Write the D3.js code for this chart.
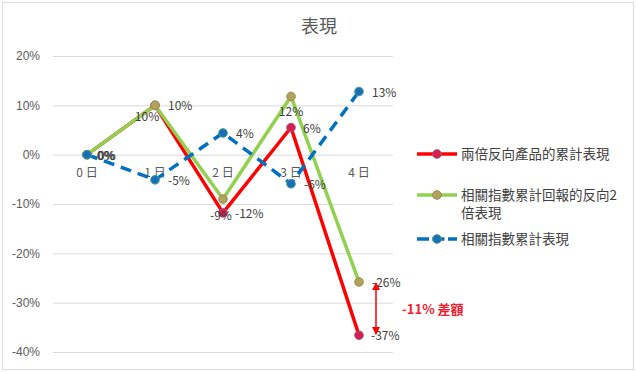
<!DOCTYPE html>
<html>
<head>
<meta charset="utf-8">
<script src="https://cdn.jsdelivr.net/npm/d3@7"></script>
<style>
  body { margin: 0; background: #fff; }
  svg { font-family: "Noto Sans CJK TC", "Noto Sans", sans-serif; }
</style>
</head>
<body>
<svg width="636" height="372"></svg>
<script>
// 資料
var days = ['0 日', '1 日', '2 日', '3 日', '4 日']
var yTicks = [0.2, 0.1, 0, -0.1, -0.2, -0.3, -0.4]
var inverseProduct = [0, 0.10, -0.118, 0.055, -0.366]   // 兩倍反向產品的累計表現
var inverseIndex2x = [0, 0.10, -0.09, 0.118, -0.258]    // 相關指數累計回報的反向2倍表現
var indexReturn = [0, -0.051, 0.044, -0.059, 0.128]     // 相關指數累計表現
var gapLabel = '-11% 差額'

var svg = d3.select('svg')
var pct = function (d) { return d3.format('.0%')(d).replace('\u2212', '-') }

// 外框
svg.append('rect')
  .attr('x', 2.5).attr('y', 2.5)
  .attr('width', 631).attr('height', 367)
  .attr('fill', 'none')
  .attr('stroke', '#d9d9d9')

var x = d3.scaleBand().domain(days).range([53, 393])
var y = d3.scaleLinear().domain([-0.4, 0.2]).range([352, 56])
var cx = function (d, i) { return x(days[i]) + x.bandwidth() / 2 }

// 標題
svg.append('text')
  .attr('x', 319).attr('y', 33)
  .attr('text-anchor', 'middle')
  .attr('font-size', 18)
  .attr('fill', '#595959')
  .text('表現')

// 格線 + y 軸
var yAxis = d3.axisLeft(y).tickValues(yTicks).tickFormat(pct).tickSize(-340).tickPadding(13)
var gy = svg.append('g').attr('transform', 'translate(53,0)').call(yAxis)
gy.select('.domain').remove()
gy.selectAll('line').attr('stroke', '#d9d9d9')
gy.selectAll('text').attr('font-size', 12).attr('fill', '#595959').attr('font-family', 'inherit')

// x 軸標籤 (在 0% 線下方)
svg.append('g').selectAll('text')
  .data(days).enter().append('text')
  .attr('x', function (d) { return x(d) + x.bandwidth() / 2 })
  .attr('y', 177)
  .attr('text-anchor', 'middle')
  .attr('font-size', 12)
  .attr('fill', '#595959')
  .text(function (d) { return d })

var series = [
  { name: '兩倍反向產品的累計表現', values: inverseProduct, color: '#ff0000', width: 3.5, dash: null,
    mFill: '#d4204a', mStroke: '#a4508a',
    labels: [[10, 5, 'start'], [-8, 16, 'middle'], [12, 5, 'start'], [12, 5, 'start'], [12, 5, 'start']] },
  { name: '相關指數累計回報的反向2倍表現', values: inverseIndex2x, color: '#92d050', width: 3.5, dash: null,
    mFill: '#b0a35e', mStroke: '#a0884a',
    labels: [[10, 5, 'start'], [13, 5, 'start'], [-2, 21, 'middle'], [0, 20, 'middle'], [13, 5, 'start']] },
  { name: '相關指數累計表現', values: indexReturn, color: '#0070c0', width: 3.5, dash: '11,7',
    mFill: '#1a6fb8', mStroke: '#3f9a86',
    labels: [[11, 5, 'start'], [13, 5, 'start'], [13, 5, 'start'], [13, 5, 'start'], [13, 5, 'start']] }
]

var line = d3.line().x(cx).y(function (d) { return y(d) })

series.forEach(function (s) {
  svg.append('path')
    .datum(s.values)
    .attr('d', line)
    .attr('fill', 'none')
    .attr('stroke', s.color)
    .attr('stroke-width', s.width)
    .attr('stroke-dasharray', s.dash)
    .attr('stroke-linejoin', 'round')
})

series.forEach(function (s) {
  svg.append('g').selectAll('circle')
    .data(s.values).enter().append('circle')
    .attr('cx', cx)
    .attr('cy', function (d) { return y(d) })
    .attr('r', 4.3)
    .attr('fill', s.mFill)
    .attr('stroke', s.mStroke)
    .attr('stroke-width', 1)
})

// 數據標籤
series.forEach(function (s) {
  svg.append('g').selectAll('text')
    .data(s.values).enter().append('text')
    .attr('x', function (d, i) { return cx(d, i) + s.labels[i][0] })
    .attr('y', function (d) { return y(d) }).attr('dy', function (d, i) { return s.labels[i][1] })
    .attr('text-anchor', function (d, i) { return s.labels[i][2] })
    .attr('font-size', 12)
    .attr('fill', '#404040')
    .text(pct)
})

// 差額箭頭
var ax = cx(0, 4) + 17
var y1 = y(inverseIndex2x[4]) + 1, y2 = y(inverseProduct[4]) - 1
svg.append('defs').append('marker')
  .attr('id', 'ah').attr('viewBox', '0 0 10 10')
  .attr('refX', 9).attr('refY', 5)
  .attr('markerWidth', 8).attr('markerHeight', 8)
  .attr('markerUnits', 'userSpaceOnUse')
  .attr('orient', 'auto-start-reverse')
  .append('path').attr('d', 'M0,0L10,5L0,10z').attr('fill', '#ff0000')
svg.append('line')
  .attr('x1', ax).attr('x2', ax)
  .attr('y1', y1).attr('y2', y2)
  .attr('stroke', '#ff0000').attr('stroke-width', 1.5)
  .attr('marker-start', 'url(#ah)').attr('marker-end', 'url(#ah)')
svg.append('text')
  .attr('x', 402).attr('y', (y1 + y2) / 2 + 5)
  .attr('font-size', 13).attr('font-weight', 'bold')
  .attr('fill', '#ee1c2e')
  .text(gapLabel)

// 圖例
var legendRows = [[154], [195, 213], [239]]
var legendText = [['兩倍反向產品的累計表現'], ['相關指數累計回報的反向2', '倍表現'], ['相關指數累計表現']]
series.forEach(function (s, i) {
  var ly = legendRows[i][0]
  var g = svg.append('g')
  g.append('line')
    .attr('x1', 417).attr('x2', 457).attr('y1', ly).attr('y2', ly)
    .attr('stroke', s.color).attr('stroke-width', s.width)
    .attr('stroke-dasharray', s.dash ? '12,3.5' : null)
  g.append('circle')
    .attr('cx', 437).attr('cy', ly).attr('r', 4.3)
    .attr('fill', s.mFill).attr('stroke', s.mStroke)
  legendText[i].forEach(function (t, j) {
    g.append('text')
      .attr('x', 461).attr('y', legendRows[i][j] + 5)
      .attr('font-size', 13.5)
      .attr('fill', '#404040')
      .text(t)
  })
})
</script>
</body>
</html>
